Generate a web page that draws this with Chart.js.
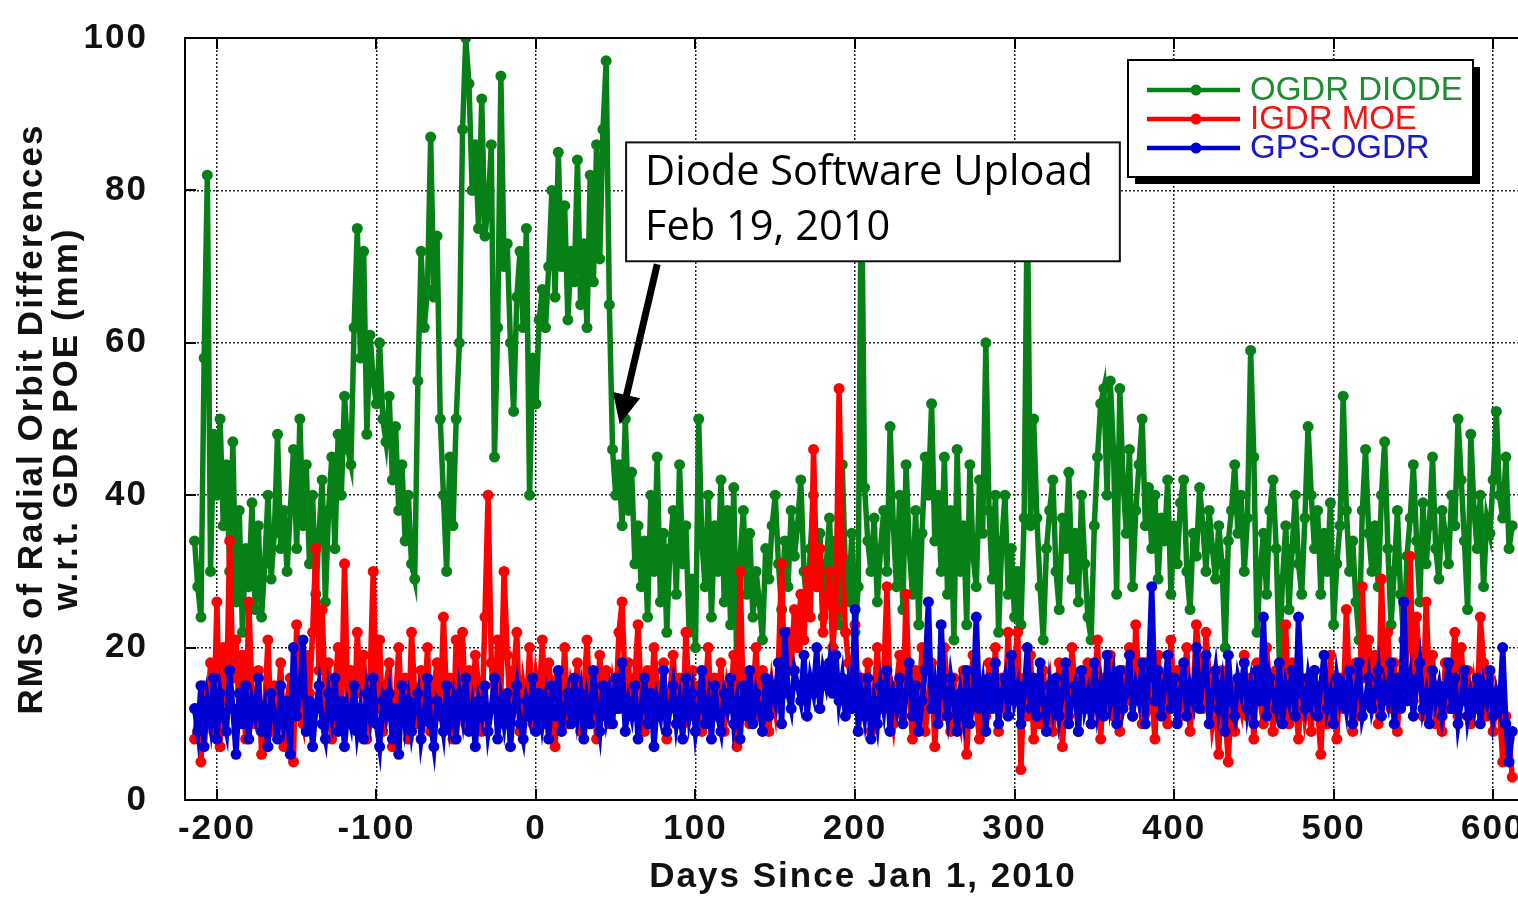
<!DOCTYPE html>
<html>
<head>
<meta charset="utf-8">
<script src="https://cdn.jsdelivr.net/npm/chart.js@4.4.1/dist/chart.umd.min.js"></script>
<style>
html,body{margin:0;padding:0;overflow:hidden;background:#fff;width:1518px;height:897px}
canvas{display:block}
</style>
</head>
<body>
<canvas id="c" width="1550" height="897"></canvas>
<script>
const firstDay = -214;
const dayStep = 2;
const xTickValues = [-200, -100, 0, 100, 200, 300, 400, 500, 600];
const yTickValues = [0, 20, 40, 60, 80, 100];
const seriesNames = ['OGDR DIODE', 'IGDR MOE', 'GPS-OGDR'];

const ogdrDiode = [
34,28,24,58,82,30,48,40,50,36,
44,30,47,26,38,22,33,28,39,25,
36,24,31,40,29,35,48,33,38,30,
38,46,33,50,36,44,31,40,27,35,
42,26,38,45,33,48,40,53,46,44,
62,75,58,72,48,61,55,52,60,50,
47,53,42,49,38,44,34,40,31,29,
55,72,62,67,87,66,74,50,40,30,
45,36,50,60,88,100,94,80,86,75,
92,74,78,86,45,62,95,70,73,60,
51,66,72,62,75,40,58,52,63,67,
62,70,80,66,85,70,78,63,72,68,
84,65,73,62,82,68,86,71,88,97,
65,46,40,44,36,50,38,43,31,36,
28,34,24,40,30,45,26,35,22,33,
38,27,44,31,36,22,29,20,50,34,
28,40,24,36,30,42,26,38,23,41,
16,32,38,27,35,24,30,26,21,33,
29,36,40,31,25,34,28,38,32,36,
42,30,25,33,40,28,35,24,31,37,
27,34,23,44,30,26,35,22,28,84,
41,34,30,37,26,33,38,30,49,36,
28,40,25,44,33,27,38,23,35,45,
40,52,34,40,30,45,27,38,21,46,
30,36,23,44,32,28,42,35,60,38,
29,40,22,34,40,27,33,24,30,23,
37,80,36,50,37,28,21,33,38,42,
30,25,37,33,43,29,35,26,40,31,
24,21,36,45,52,54,40,55,46,27,
54,42,35,46,28,38,44,50,36,41,
33,40,29,37,34,42,27,36,31,39,
42,30,25,35,32,41,36,30,38,33,
29,36,31,20,34,38,44,35,40,30,
37,59,45,22,30,35,27,38,42,33,
18,29,36,25,33,40,31,27,37,49,
40,33,38,27,35,30,39,23,31,36,
53,38,30,34,26,21,38,46,35,30,
36,28,40,47,33,23,30,38,27,21,
32,37,44,34,26,39,31,36,45,33,
29,38,35,31,40,36,50,42,34,25,
48,38,33,40,28,37,35,42,51,40,
37,45,33,36
];

const igdrMoe = [
8,12,5,15,10,18,9,26,7,20,
13,34,16,21,11,19,8,26,14,10,
17,6,12,21,9,15,11,18,7,13,
16,5,23,12,10,19,14,22,33,17,
25,12,18,8,15,20,11,31,13,17,
10,22,14,19,8,16,30,12,21,9,
15,18,7,13,20,11,16,8,22,14,
10,17,12,20,9,15,18,11,24,13,
16,8,21,14,22,10,17,12,19,15,
9,24,40,18,12,21,14,30,19,11,
17,22,9,15,12,20,10,16,13,21,
11,18,14,7,16,12,20,10,15,13,
18,9,14,21,11,16,8,19,13,17,
10,15,12,22,26,14,18,11,16,23,
13,9,17,12,20,15,11,18,8,14,
19,12,16,10,22,13,17,11,15,9,
14,20,11,16,12,18,9,15,13,19,
7,30,12,16,10,14,20,11,17,13,
9,15,12,18,31,14,22,17,25,20,
27,21,30,24,46,28,33,22,26,30,
20,25,54,32,22,18,14,23,12,16,
11,18,9,14,20,12,16,28,13,10,
15,19,11,27,14,8,17,12,20,9,
13,18,7,15,11,20,14,9,16,12,
10,17,6,14,19,12,8,15,11,18,
13,20,9,16,12,22,14,18,22,4,
16,11,19,8,14,10,17,12,15,9,
13,18,7,15,11,20,14,9,16,12,
18,10,14,21,8,16,12,19,11,15,
9,17,13,20,11,23,15,10,18,12,
14,8,19,12,16,10,21,13,17,11,
15,20,9,14,23,18,12,22,16,10,
13,6,17,11,5,15,9,14,12,19,
11,16,8,18,13,10,20,14,9,17,
12,15,23,10,18,13,8,16,11,14,
9,17,12,6,15,10,19,13,8,16,
12,25,14,9,18,11,28,16,21,13,
19,10,29,15,22,12,18,9,16,14,
20,32,13,24,17,11,26,15,19,10,
14,9,18,12,16,22,11,20,13,17,
10,15,12,24,18,11,16,9,14,12,
5,11,8,3
];

const gpsOgdr = [
12,9,15,7,13,10,16,8,14,11,
9,17,12,6,14,10,15,8,13,11,
16,9,12,7,14,11,8,15,10,13,
6,20,11,14,21,9,13,7,12,15,
10,8,14,11,16,9,13,7,12,10,
15,9,12,8,14,11,16,10,7,13,
11,14,8,12,6,15,10,13,9,12,
14,8,11,16,10,7,13,12,9,15,
10,13,8,14,11,16,9,12,7,13,
11,15,9,12,16,8,13,10,14,7,
12,15,10,8,13,11,16,9,14,10,
13,8,15,11,17,9,12,14,10,16,
11,14,8,13,10,17,12,9,15,11,
14,10,16,12,18,9,13,11,15,8,
12,16,10,14,7,13,11,17,9,12,
15,10,13,8,16,11,14,9,12,17,
10,13,8,15,11,9,14,12,16,10,
13,8,15,11,17,10,14,12,9,16,
11,15,13,18,10,22,14,12,17,15,
13,19,11,16,14,20,12,17,15,18,
14,19,13,16,11,15,12,25,9,14,
11,16,8,13,10,15,12,17,9,14,
12,16,10,14,18,11,15,9,13,17,
26,12,15,10,23,14,11,16,13,9,
14,11,17,10,13,24,12,15,9,16,
12,18,10,14,16,11,19,13,15,10,
14,20,12,16,11,18,13,9,15,12,
16,11,14,18,10,13,15,9,17,12,
14,10,18,12,15,11,19,13,16,10,
17,12,14,19,11,15,13,18,10,16,
28,13,17,11,15,19,12,16,10,14,
18,11,15,13,20,12,16,19,10,14,
17,12,15,9,19,13,11,16,14,18,
12,15,10,17,13,24,11,16,14,12,
18,10,15,13,17,11,24,14,12,16,
13,17,11,15,19,12,14,10,16,13,
15,12,17,10,14,18,11,13,16,12,
14,17,11,15,13,18,10,16,12,26,
13,16,11,15,18,12,14,10,17,13,
15,11,14,18,12,16,10,13,17,11,
14,12,16,10,15,13,17,11,14,12,
20,10,5,9
];

// callout (annotation) placement in data coordinates
const calloutLines = ['Diode Software Upload', 'Feb 19, 2010'];
const calloutBox = { fromDay: 56.5, toDay: 366, topVal: 86.3, bottomVal: 70.7 };
const calloutArrow = { fromDay: 76, fromVal: 70.3, toDay: 52.5, toVal: 49.3 };

const colors = ['rgb(8,128,24)', 'rgb(255,0,0)', 'rgb(0,0,210)'];
const legendTextColors = ['rgb(30,140,50)', 'rgb(245,20,20)', 'rgb(25,25,200)'];

const days = ogdrDiode.map((_, i) => firstDay + i * dayStep);
const toPoints = arr => arr.map((v, i) => ({ x: days[i], y: v }));

const AXIS_FONT = '"Liberation Sans", Arial, Helvetica, sans-serif';

const decor = {
  id: 'decor',
  beforeDraw(chart) {
    chart.ctx.letterSpacing = '2px';
  },
  beforeDatasetsDraw(chart) {
    chart.ctx.letterSpacing = '0px';
  },
  afterDatasetsDraw(chart) {
    const { ctx, chartArea: a, scales: { x, y } } = chart;
    ctx.save();
    ctx.strokeStyle = '#000';
    ctx.lineWidth = 2;
    ctx.strokeRect(a.left, a.top, a.right - a.left, a.bottom - a.top);
    ctx.beginPath();
    xTickValues.forEach(v => {
      const px = Math.round(x.getPixelForValue(v));
      ctx.moveTo(px, a.bottom); ctx.lineTo(px, a.bottom - 11);
      ctx.moveTo(px, a.top); ctx.lineTo(px, a.top + 11);
    });
    yTickValues.forEach(v => {
      const py = Math.round(y.getPixelForValue(v));
      ctx.moveTo(a.left, py); ctx.lineTo(a.left + 11, py);
      ctx.moveTo(a.right, py); ctx.lineTo(a.right - 11, py);
    });
    ctx.stroke();
    ctx.restore();
  },
  afterDraw(chart) {
    const { ctx, scales: { x, y } } = chart;
    ctx.save();
    ctx.letterSpacing = '0px';
    // ---- legend ----
    const lb = { x: 1128, y: 60, w: 345, h: 117, shadow: 7 };
    ctx.fillStyle = '#000';
    ctx.fillRect(lb.x + lb.shadow, lb.y + lb.shadow, lb.w, lb.h);
    ctx.fillStyle = '#fff';
    ctx.fillRect(lb.x, lb.y, lb.w, lb.h);
    ctx.strokeStyle = '#000';
    ctx.lineWidth = 2;
    ctx.strokeRect(lb.x, lb.y, lb.w, lb.h);
    chart.data.datasets.forEach((ds, i) => {
      const ry = 90 + i * 29;
      ctx.strokeStyle = ds.borderColor;
      ctx.lineWidth = 4.5;
      ctx.beginPath(); ctx.moveTo(1147, ry); ctx.lineTo(1240, ry); ctx.stroke();
      ctx.fillStyle = ds.borderColor;
      ctx.beginPath(); ctx.arc(1196, ry, 5.5, 0, Math.PI * 2); ctx.fill();
      ctx.fillStyle = legendTextColors[i];
      ctx.font = '33px "Liberation Sans", Arial, sans-serif';
      ctx.textBaseline = 'middle';
      ctx.textAlign = 'left';
      ctx.fillText(ds.label, 1250, ry + 1);
    });
    // ---- callout box ----
    const bx0 = x.getPixelForValue(calloutBox.fromDay), bx1 = x.getPixelForValue(calloutBox.toDay);
    const by0 = y.getPixelForValue(calloutBox.topVal), by1 = y.getPixelForValue(calloutBox.bottomVal);
    ctx.fillStyle = '#fff';
    ctx.fillRect(bx0, by0, bx1 - bx0, by1 - by0);
    ctx.strokeStyle = '#111';
    ctx.lineWidth = 2;
    ctx.strokeRect(bx0, by0, bx1 - bx0, by1 - by0);
    ctx.fillStyle = '#000';
    ctx.textBaseline = 'alphabetic';
    ctx.font = '40px "Open Sans", "Noto Sans", sans-serif';
    const w0 = ctx.measureText(calloutLines[0]).width;
    const fs = 40 * 448 / w0;
    ctx.font = fs.toFixed(2) + 'px "Open Sans", "Noto Sans", sans-serif';
    ctx.fillText(calloutLines[0], bx0 + 19, by0 + 43);
    ctx.fillText(calloutLines[1], bx0 + 19, by0 + 98);
    // ---- arrow ----
    const tx = x.getPixelForValue(calloutArrow.fromDay), ty = y.getPixelForValue(calloutArrow.fromVal);
    const hx = x.getPixelForValue(calloutArrow.toDay), hy = y.getPixelForValue(calloutArrow.toVal);
    const dx = hx - tx, dy = hy - ty, len = Math.hypot(dx, dy);
    const ux = dx / len, uy = dy / len, nx = -uy, ny = ux;
    const headLen = 30, headHalf = 14;
    const bxp = hx - ux * headLen, byp = hy - uy * headLen;
    ctx.strokeStyle = '#000';
    ctx.lineWidth = 7;
    ctx.beginPath(); ctx.moveTo(tx, ty); ctx.lineTo(bxp + ux * 2, byp + uy * 2); ctx.stroke();
    ctx.fillStyle = '#000';
    ctx.beginPath();
    ctx.moveTo(hx, hy);
    ctx.lineTo(bxp + nx * headHalf, byp + ny * headHalf);
    ctx.lineTo(bxp - nx * headHalf, byp - ny * headHalf);
    ctx.closePath();
    ctx.fill();
    ctx.restore();
  }
};

const mkDataset = (label, arr, i, order) => ({
  label,
  data: toPoints(arr),
  borderColor: colors[i],
  backgroundColor: colors[i],
  pointBackgroundColor: colors[i],
  pointBorderColor: colors[i],
  pointBorderWidth: 0,
  pointRadius: 5.5,
  borderWidth: 5.5,
  tension: 0,
  order
});

new Chart(document.getElementById('c'), {
  type: 'line',
  data: {
    datasets: [
      mkDataset(seriesNames[0], ogdrDiode, 0, 3),
      mkDataset(seriesNames[1], igdrMoe, 1, 2),
      mkDataset(seriesNames[2], gpsOgdr, 2, 1)
    ]
  },
  options: {
    responsive: false,
    animation: false,
    devicePixelRatio: 1,
    events: [],
    layout: { padding: { left: 0, right: 9, top: 38, bottom: 0 } },
    plugins: { legend: { display: false }, tooltip: { enabled: false } },
    scales: {
      x: {
        type: 'linear',
        min: -220,
        max: 630,
        afterBuildTicks: s => { s.ticks = xTickValues.map(v => ({ value: v })); },
        afterFit: s => { s.height = 97; },
        grid: { color: '#222', lineWidth: 1.5, drawTicks: true, tickLength: 12, tickColor: 'rgba(0,0,0,0)' },
        border: { display: false, dash: [2, 2] },
        ticks: {
          padding: 0, color: '#111', maxRotation: 0, autoSkip: false,
          font: { family: AXIS_FONT, size: 35, weight: 'bold', lineHeight: 1 }
        },
        title: {
          display: true, text: 'Days Since Jan 1, 2010', color: '#111',
          padding: { top: 0, bottom: 2 },
          font: { family: AXIS_FONT, size: 35, weight: 'bold', lineHeight: 1 }
        }
      },
      y: {
        type: 'linear',
        min: 0,
        max: 100,
        afterBuildTicks: s => { s.ticks = yTickValues.map(v => ({ value: v })); },
        afterFit: s => { s.width = 185; },
        grid: { color: '#222', lineWidth: 1.5, drawTicks: true, tickLength: 37, tickColor: 'rgba(0,0,0,0)' },
        border: { display: false, dash: [2, 2] },
        ticks: {
          padding: 0, color: '#111',
          font: { family: AXIS_FONT, size: 35, weight: 'bold', lineHeight: 1 }
        },
        title: {
          display: true,
          text: ['RMS of Radial Orbit Differences', 'w.r.t. GDR POE (mm)'],
          color: '#111',
          padding: { top: 15, bottom: 0 },
          font: { family: AXIS_FONT, size: 35, weight: 'bold', lineHeight: 1 }
        }
      }
    }
  },
  plugins: [decor]
});
</script>
</body>
</html>
